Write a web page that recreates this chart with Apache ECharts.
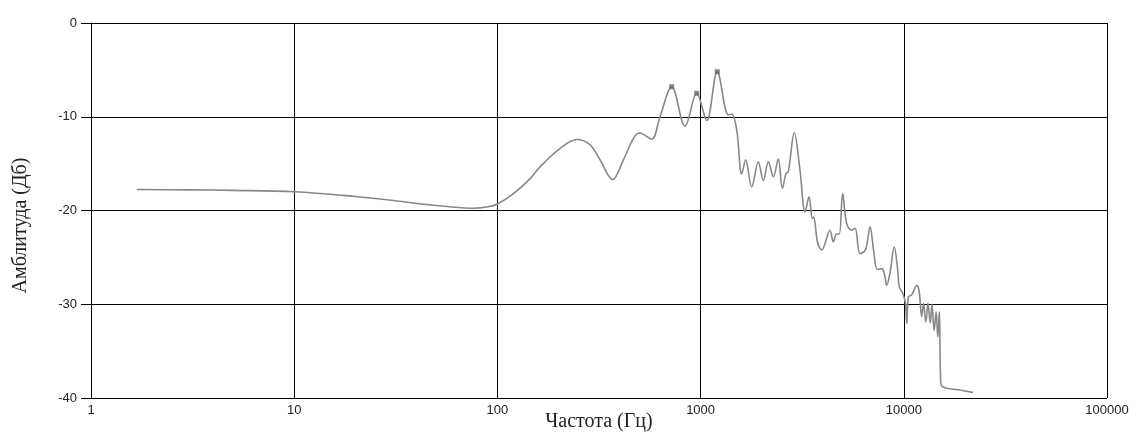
<!DOCTYPE html>
<html>
<head>
<meta charset="utf-8">
<script src="https://cdn.jsdelivr.net/npm/echarts@6/dist/echarts.min.js"></script>
<style>
  html, body { margin: 0; padding: 0; background: #fff; }
  #chart { width: 1137px; height: 434px; }
</style>
</head>
<body>
<div id="chart"></div>
<script>
// частоты (Гц) и амплитуда (Дб)
const freq = [1.68, 3, 5, 10, 20, 30, 40, 55, 76, 90, 100, 120, 145, 162, 203, 246, 286, 320, 369, 417, 470, 503, 574, 631, 721, 838, 957, 1072, 1208, 1370, 1422, 1506, 1593, 1667, 1784, 1923, 2036, 2155, 2281, 2412, 2525, 2633, 2700, 2891, 3084, 3266, 3415, 3548, 3600, 3769, 3945, 4335, 4498, 4677, 4816, 5000, 5236, 5540, 5760, 6085, 6480, 6823, 7100, 7408, 7800, 8050, 8237, 8550, 8974, 9300, 9505, 9890, 10188, 10350, 10540, 10940, 11570, 11880, 12250, 12500, 12840, 13150, 13500, 13750, 14100, 14430, 14700, 14960, 15180, 15500, 18900, 21900];
const amp = [-17.76, -17.8, -17.85, -18.0, -18.5, -18.9, -19.25, -19.55, -19.76, -19.6, -19.3, -18.2, -16.6, -15.35, -13.4, -12.43, -13.0, -14.6, -16.7, -14.6, -12.2, -11.73, -12.4, -10.0, -6.8, -11.0, -7.5, -10.4, -5.2, -9.8, -9.7, -11.4, -16.1, -14.6, -17.5, -14.8, -16.8, -14.8, -16.4, -14.5, -17.65, -16.06, -15.9, -11.7, -15.7, -20.15, -18.55, -20.85, -20.7, -23.5, -24.2, -22.1, -23.35, -22.5, -22.5, -18.2, -21.4, -22.1, -21.9, -24.6, -24.2, -21.75, -24.2, -26.3, -26.2, -26.9, -27.97, -26.7, -23.9, -26.0, -28.15, -28.85, -29.9, -32.05, -29.2, -29.0, -28.0, -28.5, -31.3, -29.9, -31.9, -29.9, -32.0, -30.0, -32.8, -30.8, -33.5, -30.8, -38.1, -38.8, -39.15, -39.4];

// отмеченные пики
const peakFreq = [721, 957, 1208];
const peakAmp = [-6.8, -7.5, -5.2];

const yTicks = [0, -10, -20, -30, -40];

const chart = echarts.init(document.getElementById('chart'));

chart.setOption({
  animation: false,
  grid: { left: 91, right: 30, top: 23, bottom: 36, outerBoundsMode: 'none' },
  xAxis: {
    type: 'log',
    logBase: 10,
    min: 1,
    max: 100000,
    name: 'Частота (Гц)',
    nameLocation: 'middle',
    nameGap: 24,
    nameMoveOverlap: false,
    nameTextStyle: { fontFamily: 'Liberation Serif', fontSize: 20, color: '#222', verticalAlign: 'middle' },
    axisLine: { lineStyle: { color: '#000', width: 1 } },
    axisTick: { show: true, length: 6, lineStyle: { color: '#000' } },
    axisLabel: {
      fontFamily: 'Liberation Sans', fontSize: 13, color: '#222', margin: 6,
      formatter: v => String(Math.round(v))
    },
    splitLine: { show: true, lineStyle: { color: '#000', width: 1 } },
    minorTick: { show: false },
    minorSplitLine: { show: false }
  },
  yAxis: {
    type: 'value',
    min: -40,
    max: 0,
    interval: 10,
    name: 'Амблитуда (Дб)',
    nameLocation: 'middle',
    nameGap: 60,
    nameRotate: 90,
    nameMoveOverlap: false,
    nameTextStyle: { fontFamily: 'Liberation Serif', fontSize: 20, color: '#222', padding: [0, 30, 0, 0] },
    axisLine: { show: true, lineStyle: { color: '#000', width: 1 } },
    axisTick: { show: true, length: 10, lineStyle: { color: '#000' } },
    axisLabel: {
      fontFamily: 'Liberation Sans', fontSize: 13, color: '#222', margin: 14,
      formatter: v => yTicks.includes(v) ? String(v) : ''
    },
    splitLine: { show: true, lineStyle: { color: '#000', width: 1 } }
  },
  series: [
    {
      type: 'line',
      data: freq.map((f, i) => [f, amp[i]]),
      smooth: 0.35,
      showSymbol: false,
      lineStyle: { color: '#888', width: 1.6 },
      z: 3
    },
    {
      type: 'scatter',
      data: peakFreq.map((f, i) => [f, peakAmp[i]]),
      symbol: 'rect',
      symbolSize: 5,
      itemStyle: { color: '#666' },
      z: 4
    }
  ]
});
</script>
</body>
</html>
